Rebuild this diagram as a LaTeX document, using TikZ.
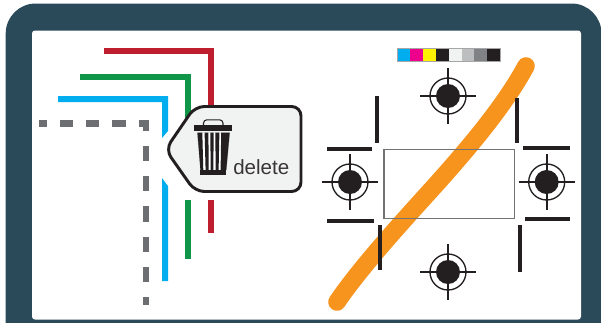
\documentclass[tikz,border=0pt]{standalone}
\usepackage{fontspec}
\setmainfont{Liberation Sans}
\definecolor{frame}{HTML}{2A4A5A}
\definecolor{ink}{HTML}{231F20}
\definecolor{cred}{HTML}{BE1E2D}
\definecolor{cgreen}{HTML}{0F9648}
\definecolor{cblue}{HTML}{00AEEF}
\definecolor{cgrey}{HTML}{6D6E71}
\definecolor{corange}{HTML}{F7941E}
\definecolor{tagfill}{HTML}{F1F2F2}
\tikzset{
  x=0.75pt,y=-0.75pt,
  rail/.style={line width=4.4pt,line cap=butt,miter limit=10},
  dashseg/.style={line width=4.6pt,cgrey},
  cropmark/.style={line width=3pt,ink},
  ring/.style={line width=1pt,ink},
  hair/.style={line width=1.5pt,ink},
  swatch/.style={draw=black!35,line width=0.3pt},
}
\newcommand{\regmark}[2]{%
  \fill[ink] (#1,#2) circle[radius=12];
  \draw[ring] (#1,#2) circle[radius=18];
  \draw[hair] (#1-28,#2) -- (#1+28,#2) (#1,#2-28) -- (#1,#2+28);
}
\begin{document}
\begin{tikzpicture}
\useasboundingbox (0,0) rectangle (601,322);
\clip (0,0) rectangle (601,322);
% frame
\fill[frame,rounded corners=22.5pt] (5.7,3.5) rectangle (601.5,360);
\fill[white,rounded corners=2.2pt] (32,30.5) rectangle (581,319.5);
% rails upper parts
\draw[rail,cred] (104,51) -- (211,51) -- (211,112);
\draw[rail,cgreen] (80,77) -- (188,77) -- (188,120);
\fill[cblue] (58,96) -- (168,96) -- (168,131) -- (162,138) -- (162,102) -- (58,102) -- cycle;
% rails lower parts
\draw[rail,cred] (211,200) -- (211,233);
\draw[rail,cgreen] (188,200) -- (188,259);
\fill[cblue] (162,178) -- (168,186) -- (168,281) -- (162,281) -- cycle;
% dashed gray line
\draw[dashseg] (39,123.5) -- (47,123.5);
\draw[dashseg] (60,123.5) -- (73,123.5);
\draw[dashseg] (86,123.5) -- (99,123.5);
\draw[dashseg] (112,123.5) -- (126,123.5);
\draw[dashseg] (139,123.5) -- (146.3,123.5) -- (146.3,130.5);
\draw[dashseg] (146.3,146) -- (146.3,161);
\draw[dashseg] (146.3,176) -- (146.3,191);
\draw[dashseg] (146.3,206) -- (146.3,222);
\draw[dashseg] (146.3,237) -- (146.3,252);
\draw[dashseg] (146.3,267) -- (146.3,282);
\draw[dashseg] (146.3,297) -- (146.3,305);
% tag
\draw[fill=tagfill,draw=ink,line width=2.2pt,rounded corners=7pt]
  (165.5,149.5) -- (195,106.5) -- (301,106.5) -- (301,191.5) -- (195,191.5) -- cycle;
% trash can
\draw[ink,line width=0.8pt,rounded corners=2.5pt] (203.5,125.5) -- (203.5,119.8) -- (223,119.8) -- (223,125.5);
\fill[ink] (194,125.3) rectangle (232,131.3);
\fill[ink!45] (197,132.5) -- (230,132.5) -- (226.5,170) -- (200.5,170) -- cycle;
\fill[white] (198.6,132.5) -- (228.4,132.5) -- (225,170) -- (202,170) -- cycle;
\foreach \a/\b/\c/\d in {197.6/202.3/200.4/203.3,204.6/208.4/205.6/208.7,210.4/213.6/210.6/213.4,215.4/219.4/215.6/218.6,221.2/229.6/220.6/226.2}{
  \fill[ink] (\a,132.5) -- (\b,132.5) -- (\d,170) -- (\c,170) -- cycle;
}
\fill[ink] (200,170) rectangle (226,175);
% delete label
\node[anchor=base west,inner sep=0pt,font=\fontsize{15.4pt}{16pt}\selectfont,text=ink!90] (del) at (233,174) {delete};
% color bar
\foreach \i/\c in {0/00AEEF,1/EC008C,2/FFF200,3/231F20,4/F1F2F2,5/BCBEC0,6/808285,7/231F20}{
  \definecolor{sw}{HTML}{\c}
  \fill[sw] (397+\i*12.9,48) rectangle (397+\i*12.9+12.9,61);
}
\draw[swatch] (397,48) rectangle (500,61);
% orange stroke
\draw[corange,line width=13.2pt,line cap=round]
  (337,302) .. controls (360,268) and (402,222) .. (436,184.5)
  .. controls (470,146.5) and (505,105) .. (526,66);
% crop rectangle
\draw[black!55,line width=0.8pt] (384,149.5) rectangle (514.5,218.5);
% crop marks
\draw[cropmark] (377,96) -- (377,143);
\draw[cropmark] (517,98) -- (517,143);
\draw[cropmark] (380,225) -- (380,270);
\draw[cropmark] (520,225) -- (520,272);
\draw[cropmark] (327,148.7) -- (372,148.7);
\draw[cropmark] (523,148) -- (570,148);
\draw[cropmark] (327,221) -- (374,221);
\draw[cropmark] (525,219) -- (570,219);
% registration marks
\regmark{448}{96}
\regmark{350}{182}
\regmark{546.7}{182}
\regmark{448}{272}
\end{tikzpicture}
\end{document}
